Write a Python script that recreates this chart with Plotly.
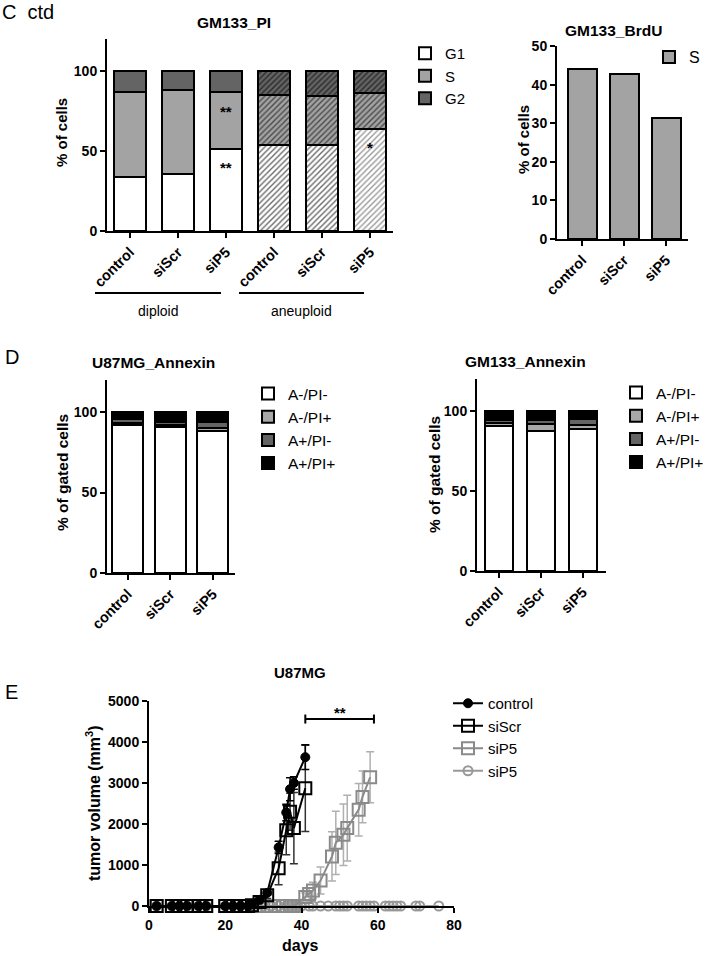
import plotly.graph_objects as go

W, H = 706, 956
FONT = "Liberation Sans, Arial, sans-serif"

# ---------------- Data ----------------
# Panel C left: GM133_PI (cell cycle, % of cells)
pi_labels = ["control", "siScr", "siP5", "control", "siScr", "siP5"]
pi_g1 = [34, 35.5, 51, 54, 54, 64]
pi_s = [53, 52.5, 36, 31, 30.5, 22.5]
pi_g2 = [13, 12, 13, 15, 15.5, 13.5]

# Panel C right: GM133_BrdU
brdu_labels = ["control", "siScr", "siP5"]
brdu_s = [44.0, 42.7, 31.3]

# Panel D: Annexin (% of gated cells)
ann_labels = ["control", "siScr", "siP5"]
ann_names = ["A-/PI-", "A-/PI+", "A+/PI-", "A+/PI+"]
u87_vals = [[92, 90.5, 88], [1.2, 1.5, 2], [2.3, 2.2, 4.2], [4.5, 5.8, 5.8]]
gm_vals = [[90.5, 87.5, 89], [2.2, 4.5, 2], [1.8, 2.4, 4], [5.5, 5.6, 5]]

# Panel E: U87MG tumor volume (mm3)
ctrl_days = [2, 6, 8, 10, 13, 15, 20, 22, 24, 26, 27, 29, 31, 34, 36, 37, 38, 41]
ctrl_vol = [0, 0, 0, 0, 0, 0, 0, 0, 0, 0, 40, 150, 320, 1430, 2280, 2850, 3000, 3630]
ctrl_err = [0, 0, 0, 0, 0, 0, 0, 0, 0, 0, 10, 30, 60, 150, 200, 280, 150, 300]

scr_days = [2, 6, 8, 10, 13, 15, 20, 22, 24, 26, 27, 29, 31, 34, 36, 37, 38, 41]
scr_vol = [0, 0, 0, 0, 0, 0, 0, 0, 0, 0, 20, 100, 260, 920, 1850, 2300, 1900, 2870]
scr_err = [0, 0, 0, 0, 0, 0, 0, 0, 0, 0, 10, 40, 80, 400, 600, 450, 870, 1050]

p5sq_days = [2, 6, 8, 10, 13, 15, 20, 22, 24, 26, 28, 30, 32, 34, 36, 37, 38,
             41, 42, 43, 45, 48, 49, 51, 52, 55, 56, 58]
p5sq_vol = [0] * 17 + [220, 290, 380, 620, 1210, 1540, 1740, 1900, 2350, 2660, 3140]
p5sq_err = [0] * 17 + [100, 150, 200, 330, 600, 770, 750, 800, 640, 630, 620]

p5ci_days = [2, 6, 8, 10, 13, 15, 20, 22, 24, 26, 28, 30, 32, 34, 36, 37, 38, 39, 40,
             42, 43, 45, 47, 49, 50, 51, 52, 55, 56, 57, 58, 59, 62, 63, 64, 65, 66,
             70, 71, 76]
p5ci_vol = [0] * len(p5ci_days)

# ---------------- Helpers ----------------
def px(x):
    return x / W


def py(y):
    return 1 - y / H


ytickfont = dict(family=FONT, size=14, color="black", weight="bold")
xtickfont = dict(family=FONT, size=14.5, color="black", weight="bold")
axis_common = dict(showline=True, linecolor="black", linewidth=2, ticks="outside",
                   ticklen=5, tickwidth=2, tickcolor="black", showgrid=False,
                   zeroline=False, fixedrange=True, automargin=False)
xa = dict(axis_common, tickfont=xtickfont)
ya = dict(axis_common, tickfont=ytickfont)

fig = go.Figure()

# ---------------- Panel C left ----------------
WHITE, LGRAY, DGRAY = "#ffffff", "#a3a3a3", "#646464"
dip = [0, 1, 2]
ane = [3, 4, 5]
for name, vals, col in [("G1", pi_g1, WHITE), ("S", pi_s, LGRAY), ("G2", pi_g2, DGRAY)]:
    fig.add_trace(go.Bar(x=dip, y=vals[:3], name=name, width=0.65,
                         marker=dict(color=col, line=dict(color="black", width=2)),
                         xaxis="x", yaxis="y", legend="legend", showlegend=True))
# aneuploid hatched
hatch = {
    "G1": [("#ffffff", "#6a6a6a"), ("#ffffff", "#6a6a6a"), ("#ffffff", "#9a9a9a")],
    "S": [("#a3a3a3", "#4a4a4a")] * 3,
    "G2": [("#646464", "#2a2a2a")] * 3,
}
for name, vals in [("G1", pi_g1), ("S", pi_s), ("G2", pi_g2)]:
    for i, xi in enumerate(ane):
        bg, fg = hatch[name][i]
        fig.add_trace(go.Bar(x=[xi], y=[vals[xi]], name=name, width=0.65,
                             marker=dict(color=bg, line=dict(color="black", width=2),
                                         pattern=dict(shape="/", bgcolor=bg, fgcolor=fg,
                                                      size=4, solidity=0.35,
                                                      fillmode="replace")),
                             xaxis="x", yaxis="y", showlegend=False))

# ---------------- Panel C right ----------------
fig.add_trace(go.Bar(x=[0, 1, 2], y=brdu_s, name="S", width=0.69,
                     marker=dict(color=LGRAY, line=dict(color="black", width=2)),
                     xaxis="x2", yaxis="y2", legend="legend2"))

# ---------------- Panel D ----------------
ann_cols = ["#ffffff", "#a8a8a8", "#646464", "#000000"]
for k in range(4):
    fig.add_trace(go.Bar(x=[0, 1, 2], y=u87_vals[k], name=ann_names[k], width=0.73,
                         marker=dict(color=ann_cols[k], line=dict(color="black", width=2)),
                         xaxis="x3", yaxis="y3", legend="legend3"))
for k in range(4):
    fig.add_trace(go.Bar(x=[0, 1, 2], y=gm_vals[k], name=ann_names[k], width=0.68,
                         marker=dict(color=ann_cols[k], line=dict(color="black", width=2)),
                         xaxis="x4", yaxis="y4", legend="legend4"))

# ---------------- Panel E ----------------
series = [
    ("control", ctrl_days, ctrl_vol, ctrl_err, "black", "black",
     dict(symbol="circle", size=9, color="black", line=dict(color="black", width=1))),
    ("siScr", scr_days, scr_vol, scr_err, "black", "#333333",
     dict(symbol="square-open", size=12, color="black", line=dict(width=2))),
    ("siP5", p5sq_days, p5sq_vol, p5sq_err, "#8a8a8a", "#b0b0b0",
     dict(symbol="square-open", size=12, color="#8a8a8a", line=dict(width=2))),
    ("siP5", p5ci_days, p5ci_vol, None, "#999999", "#999999",
     dict(symbol="circle-open", size=9, color="#999999", line=dict(width=2))),
]
# draw circles first so the others sit on top
for name, d, v, e, lc, ec, mk in [series[3], series[2], series[1], series[0]]:
    fig.add_trace(go.Scatter(
        x=d, y=v, name=name, mode="lines+markers",
        line=dict(color=lc, width=2), marker=mk, cliponaxis=False,
        error_y=(dict(type="data", array=e, visible=True, color=ec, thickness=1.5, width=4)
                 if e is not None else None),
        xaxis="x5", yaxis="y5", legend="legend5"))

# ---------------- Layout ----------------
lay = dict(
    width=W, height=H, margin=dict(l=0, r=0, t=0, b=0, pad=0, autoexpand=False),
    paper_bgcolor="white", plot_bgcolor="white", barmode="stack", bargap=0,
    font=dict(family=FONT, color="black"),
    xaxis=dict(xa, domain=[px(107), px(393)], range=[-0.48, 5.48],
               tickvals=list(range(6)), ticktext=pi_labels, tickangle=-45, anchor="y"),
    yaxis=dict(ya, domain=[py(231), py(39)], range=[0, 120],
               tickvals=[0, 50, 100], anchor="x"),
    xaxis2=dict(xa, domain=[px(557), px(688)], range=[-0.6, 2.52],
                tickvals=[0, 1, 2], ticktext=brdu_labels, tickangle=-45, anchor="y2"),
    yaxis2=dict(ya, domain=[py(239), py(46)], range=[0, 50],
                tickvals=[0, 10, 20, 30, 40, 50], anchor="x2"),
    xaxis3=dict(xa, domain=[px(107), px(235)], range=[-0.49, 2.52],
                tickvals=[0, 1, 2], ticktext=ann_labels, tickangle=-45, anchor="y3"),
    yaxis3=dict(ya, domain=[py(573), py(380)], range=[0, 120],
                tickvals=[0, 50, 100], anchor="x3"),
    xaxis4=dict(xa, domain=[px(477), px(606)], range=[-0.52, 2.55],
                tickvals=[0, 1, 2], ticktext=ann_labels, tickangle=-45, anchor="y4"),
    yaxis4=dict(ya, domain=[py(571), py(379)], range=[0, 120],
                tickvals=[0, 50, 100], anchor="x4"),
    xaxis5=dict(ya, domain=[px(149), px(454)], range=[0, 80],
                tickvals=[0, 20, 40, 60, 80], anchor="y5"),
    yaxis5=dict(ya, domain=[py(906), py(701)], range=[0, 5000],
                tickvals=[0, 1000, 2000, 3000, 4000, 5000], anchor="x5"),
)
lay["legend"] = dict(x=px(405), y=py(37), xanchor="left", yanchor="top",
                     font=dict(family=FONT, size=15, color="black"),
                     traceorder="normal", bgcolor="rgba(0,0,0,0)")
lay["legend2"] = dict(x=px(649), y=py(40), xanchor="left", yanchor="top",
                      font=dict(family=FONT, size=16, color="black"),
                      bgcolor="rgba(0,0,0,0)")
lay["legend3"] = dict(x=px(248), y=py(377), xanchor="left", yanchor="top",
                      font=dict(family=FONT, size=15.5, color="black"),
                      traceorder="normal", bgcolor="rgba(0,0,0,0)")
lay["legend4"] = dict(x=px(616), y=py(376), xanchor="left", yanchor="top",
                      font=dict(family=FONT, size=15.5, color="black"),
                      traceorder="normal", bgcolor="rgba(0,0,0,0)")
lay["legend5"] = dict(x=px(448), y=py(687), xanchor="left", yanchor="top",
                      font=dict(family=FONT, size=15, color="black"),
                      traceorder="reversed", bgcolor="rgba(0,0,0,0)")
fig.update_layout(**lay)

# ---------------- Annotations ----------------
def ann(text, x, y, size=15.5, bold=True, angle=0, xanchor="center", yanchor="middle"):
    fig.add_annotation(text=text, x=px(x), y=py(y), xref="paper", yref="paper",
                       showarrow=False, textangle=angle, xanchor=xanchor, yanchor=yanchor,
                       font=dict(family=FONT, size=size, color="black",
                                 weight="bold" if bold else "normal"))

ann("C  ctd", 0, 12, size=20, bold=False, xanchor="left")
ann("GM133_PI", 234, 23)
ann("GM133_BrdU", 613, 30)
ann("% of cells", 62, 133, size=15, angle=-90)
ann("% of cells", 523, 140, size=15, angle=-90)
ann("D", 3, 357, size=20, bold=False, xanchor="left")
ann("U87MG_Annexin", 153, 363)
ann("GM133_Annexin", 525, 362)
ann("% of gated cells", 62, 473, angle=-90)
ann("% of gated cells", 434, 475, angle=-90)
ann("E", 3, 692, size=20, bold=False, xanchor="left")
ann("U87MG", 300, 672, size=15)
ann("days", 300, 945, size=16)
ann("tumor volume (mm<sup>3</sup>)", 93, 803, size=16, angle=-90)
ann("diploid", 158, 311, size=14, bold=False)
ann("aneuploid", 301, 311, size=14, bold=False)

# significance stars on bars (data coords)
for x, y, t in [(2, 75, "**"), (2, 40, "**"), (5, 52, "*")]:
    fig.add_annotation(text=t, x=x, y=y, xref="x", yref="y", showarrow=False,
                       font=dict(family=FONT, size=15, color="black", weight="bold"))

# group lines under panel C left
fig.add_shape(type="line", xref="paper", yref="paper", x0=px(95), x1=px(221),
              y0=py(293), y1=py(293), line=dict(color="black", width=2))
fig.add_shape(type="line", xref="paper", yref="paper", x0=px(239), x1=px(364),
              y0=py(293), y1=py(293), line=dict(color="black", width=2))

# significance bracket in panel E
fig.add_shape(type="line", xref="x5", yref="y5", x0=41, x1=59, y0=4560, y1=4560,
              line=dict(color="black", width=2))
for xb in (41, 59):
    fig.add_shape(type="line", xref="x5", yref="y5", x0=xb, x1=xb, y0=4450, y1=4670,
                  line=dict(color="black", width=2))
fig.add_annotation(text="**", x=50, y=4720, xref="x5", yref="y5", showarrow=False,
                   font=dict(family=FONT, size=15, color="black", weight="bold"))

fig.write_html("out.html", config={"displayModeBar": False},
               post_script="document.body.style.margin='0';document.body.style.padding='0';")
